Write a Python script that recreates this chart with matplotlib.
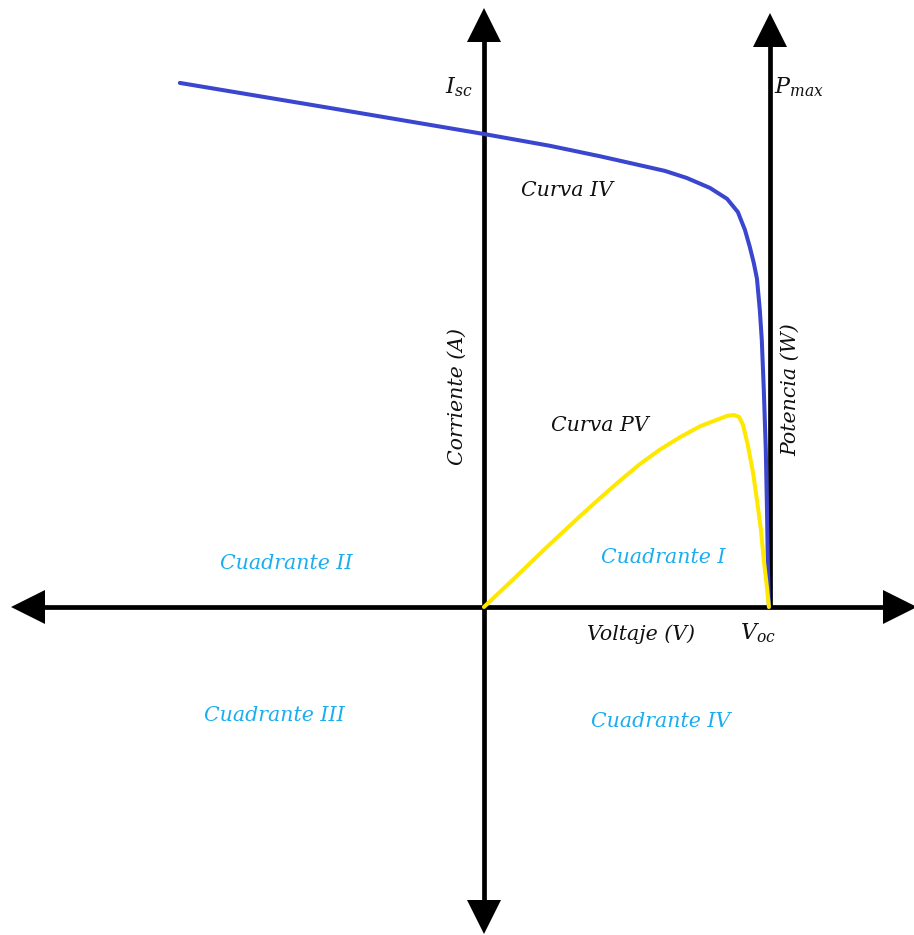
import matplotlib
matplotlib.use("Agg")
import matplotlib.pyplot as plt

# ---- data (normalised units: V/Voc, I/Isc; P on the shared vertical scale) ----
iv_voltage = [-1.067, -0.540, 0.0, 0.232, 0.407, 0.547, 0.635, 0.712, 0.793,
              0.853, 0.891, 0.916, 0.933, 0.947, 0.958, 0.968, 0.975, 0.982,
              0.989, 0.993, 0.996, 1.0]
iv_current = [1.108, 1.055, 1.0, 0.975, 0.953, 0.934, 0.922, 0.907, 0.886,
              0.863, 0.835, 0.797, 0.761, 0.727, 0.694, 0.628, 0.564, 0.459,
              0.332, 0.211, 0.099, 0.0]

pv_voltage = [0.0, 0.102, 0.221, 0.337, 0.407, 0.477, 0.547, 0.618, 0.688,
              0.758, 0.818, 0.853, 0.877, 0.895, 0.909, 0.926, 0.944, 0.958,
              0.972, 0.982, 0.993, 1.0]
pv_power = [0.0, 0.058, 0.127, 0.192, 0.230, 0.267, 0.302, 0.333, 0.359,
            0.382, 0.396, 0.404, 0.406, 0.402, 0.385, 0.342, 0.285, 0.226,
            0.163, 0.099, 0.042, 0.0]

voc = 1.0
quadrant_labels = ["Cuadrante I", "Cuadrante II", "Cuadrante III", "Cuadrante IV"]

plt.rcParams['mathtext.fontset'] = 'dejavuserif'

fig = plt.figure(figsize=(9.14, 9.35), dpi=100)
ax = fig.add_axes([0, 0, 1, 1])
ax.set_xlim(-1.698, 1.509)
ax.set_ylim(-0.6934, 1.2833)
ax.axis('off')

lw_axis = 3.4
black = '#000000'
# horizontal (voltage) axis
ax.plot([-1.62, 1.43], [0, 0], color=black, lw=lw_axis, solid_capstyle='butt', zorder=2)
# current axis
ax.plot([0, 0], [-0.62, 1.20], color=black, lw=lw_axis, solid_capstyle='butt', zorder=2)
# power axis
ax.plot([voc + 0.004, voc + 0.004], [0, 1.19], color=black, lw=lw_axis, solid_capstyle='butt', zorder=2)

ms = 25
ax.plot([-1.6], [0], marker='<', ms=ms, color=black, mew=0, zorder=3)
ax.plot([1.46], [0], marker='>', ms=ms, color=black, mew=0, zorder=3)
ax.plot([0], [1.230], marker='^', ms=ms, color=black, mew=0, zorder=3)
ax.plot([0], [-0.655], marker='v', ms=ms, color=black, mew=0, zorder=3)
ax.plot([voc + 0.004], [1.22], marker='^', ms=ms, color=black, mew=0, zorder=3)

# curves
ax.plot(iv_voltage, iv_current, color='#3B46CF', lw=2.9, zorder=4,
        solid_joinstyle='round', solid_capstyle='round')
ax.plot(pv_voltage, pv_power, color='#FFE800', lw=2.9, zorder=4,
        solid_joinstyle='round', solid_capstyle='round')

fs = 14.8
tcol = '#111111'
qcol = '#1AAEEF'
font = dict(family='DejaVu Serif', style='italic')

ax.text(-0.09, 1.10, r'$I_{sc}$', fontsize=16, color=tcol, ha='center', va='center')
ax.text(1.105, 1.10, r'$P_{max}$', fontsize=16, color=tcol, ha='center', va='center')
ax.text(0.962, -0.055, r'$V_{oc}$', fontsize=16, color=tcol, ha='center', va='center')

ax.text(0.29, 0.880, 'Curva IV', fontsize=fs, color=tcol, ha='center', va='center', **font)
ax.text(0.407, 0.383, 'Curva PV', fontsize=fs, color=tcol, ha='center', va='center', **font)
ax.text(0.551, -0.057, 'Voltaje (V)', fontsize=fs, color=tcol, ha='center', va='center', **font)
ax.text(-0.095, 0.444, 'Corriente (A)', fontsize=fs, color=tcol, ha='center', va='center',
        rotation=90, **font)
ax.text(1.075, 0.459, 'Potencia (W)', fontsize=fs, color=tcol, ha='center', va='center',
        rotation=90, **font)

ax.text(0.63, 0.104, quadrant_labels[0], fontsize=fs, color=qcol, ha='center', va='center', **font)
ax.text(-0.695, 0.091, quadrant_labels[1], fontsize=fs, color=qcol, ha='center', va='center', **font)
ax.text(-0.737, -0.230, quadrant_labels[2], fontsize=fs, color=qcol, ha='center', va='center', **font)
ax.text(0.62, -0.243, quadrant_labels[3], fontsize=fs, color=qcol, ha='center', va='center', **font)

fig.savefig('out.png', dpi=100)
